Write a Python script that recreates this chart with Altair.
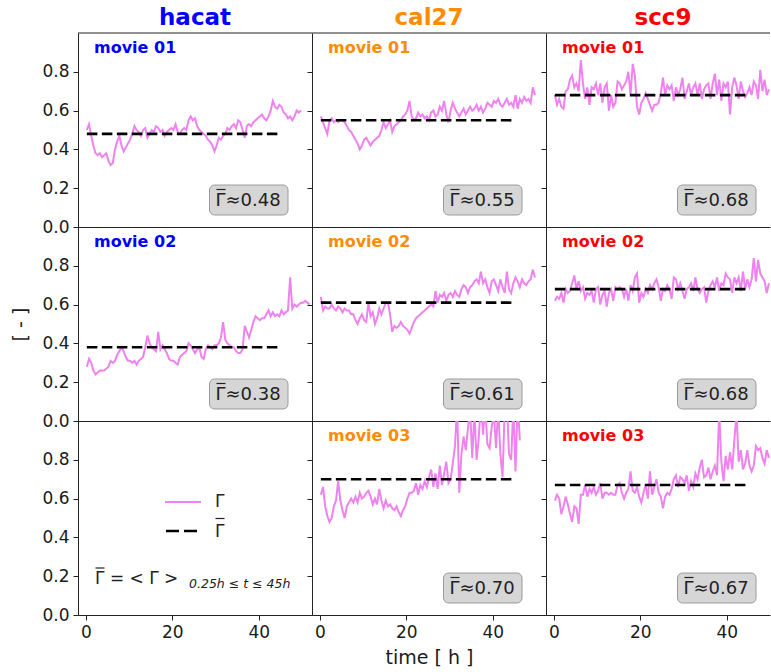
import altair as alt
import pandas as pd

# ---------------- data ----------------
CELL_LINES = ["hacat", "cal27", "scc9"]
CELL_COLORS = ["#0000ff", "#ff8c00", "#ff0000"]

# Gamma(t), sampled every 0.5 h starting at t = 0.25 h
SAMPLE_START = 0.25
SAMPLE_STEP = 0.5

HACAT_01 = [
    0.50, 0.53, 0.47, 0.42, 0.38, 0.37, 0.38, 0.36, 0.37, 0.38,
    0.34, 0.32, 0.33, 0.40, 0.44, 0.47, 0.42, 0.39, 0.41, 0.43,
    0.45, 0.48, 0.52, 0.50, 0.49, 0.47, 0.50, 0.51, 0.46, 0.48,
    0.50, 0.49, 0.52, 0.51, 0.49, 0.50, 0.47, 0.49, 0.50, 0.51,
    0.50, 0.53, 0.49, 0.48, 0.50, 0.51, 0.50, 0.55, 0.57, 0.55,
    0.56, 0.52, 0.50, 0.49, 0.48, 0.47, 0.45, 0.44, 0.42, 0.39,
    0.42, 0.46, 0.45, 0.47, 0.48, 0.51, 0.50, 0.52, 0.53, 0.51,
    0.55, 0.54, 0.50, 0.46, 0.52, 0.53, 0.52, 0.54, 0.55, 0.56,
    0.57, 0.58, 0.56, 0.55, 0.57, 0.60, 0.65, 0.62, 0.61, 0.63,
    0.62, 0.59, 0.58, 0.56, 0.57, 0.55, 0.57, 0.60, 0.59, 0.60,
]
HACAT_02 = [
    0.28, 0.32, 0.30, 0.26, 0.24, 0.25, 0.26, 0.26, 0.26, 0.27,
    0.28, 0.31, 0.30, 0.31, 0.34, 0.36, 0.38, 0.36, 0.33, 0.31,
    0.31, 0.30, 0.31, 0.29, 0.31, 0.32, 0.33, 0.38, 0.44, 0.40,
    0.38, 0.37, 0.36, 0.46, 0.37, 0.39, 0.37, 0.35, 0.32, 0.31,
    0.31, 0.30, 0.29, 0.33, 0.34, 0.35, 0.36, 0.40, 0.39, 0.37,
    0.35, 0.37, 0.38, 0.33, 0.32, 0.37, 0.39, 0.38, 0.37, 0.39,
    0.39, 0.40, 0.43, 0.51, 0.42, 0.40, 0.39, 0.38, 0.38, 0.36,
    0.35, 0.35, 0.37, 0.49, 0.46, 0.43, 0.47, 0.51, 0.54, 0.53,
    0.52, 0.53, 0.53, 0.55, 0.57, 0.54, 0.56, 0.54, 0.55, 0.54,
    0.57, 0.55, 0.56, 0.57, 0.74, 0.58, 0.60, 0.59, 0.60, 0.61,
    0.61, 0.62, 0.61, 0.60,
]
CAL27_01 = [
    0.57, 0.54, 0.51, 0.48, 0.55, 0.56, 0.54, 0.55, 0.54, 0.55,
    0.55, 0.54, 0.52, 0.50, 0.49, 0.47, 0.45, 0.43, 0.40, 0.42,
    0.45, 0.46, 0.44, 0.42, 0.44, 0.45, 0.46, 0.47, 0.50, 0.54,
    0.51, 0.53, 0.55, 0.49, 0.52, 0.53, 0.54, 0.55, 0.57, 0.58,
    0.60, 0.65, 0.57, 0.55, 0.56, 0.59, 0.57, 0.58, 0.56, 0.57,
    0.55, 0.59, 0.60, 0.57, 0.58, 0.62, 0.60, 0.65, 0.58, 0.54,
    0.60, 0.64, 0.61, 0.59, 0.57, 0.59, 0.61, 0.58, 0.60, 0.62,
    0.60, 0.61, 0.63, 0.60, 0.62, 0.59, 0.61, 0.64, 0.63, 0.62,
    0.65, 0.64, 0.66, 0.63, 0.62, 0.64, 0.66, 0.63, 0.64, 0.62,
    0.68, 0.61, 0.66, 0.64, 0.67, 0.65, 0.66, 0.64, 0.72, 0.68,
]
CAL27_02 = [
    0.64, 0.57, 0.59, 0.58, 0.58, 0.60, 0.58, 0.57, 0.59, 0.58,
    0.56, 0.58, 0.57, 0.57, 0.55, 0.55, 0.52, 0.50, 0.53, 0.55,
    0.52, 0.51, 0.61, 0.54, 0.56, 0.50, 0.53, 0.58, 0.55, 0.58,
    0.61, 0.61, 0.55, 0.46, 0.49, 0.48, 0.49, 0.51, 0.49, 0.48,
    0.47, 0.45, 0.48, 0.51, 0.53, 0.54, 0.55, 0.56, 0.57, 0.58,
    0.59, 0.60, 0.59, 0.67, 0.61, 0.65, 0.64, 0.66, 0.62, 0.65,
    0.66, 0.64, 0.67, 0.65, 0.64, 0.68, 0.70, 0.69, 0.66, 0.69,
    0.70, 0.72, 0.73, 0.71, 0.77, 0.71, 0.73, 0.69, 0.66, 0.72,
    0.73, 0.70, 0.67, 0.73, 0.69, 0.66, 0.77, 0.68, 0.66, 0.71,
    0.74, 0.72, 0.69, 0.73, 0.71, 0.70, 0.72, 0.73, 0.78, 0.74,
]
CAL27_03 = [
    0.62, 0.66, 0.56, 0.51, 0.48, 0.50, 0.56, 0.59, 0.69, 0.59,
    0.54, 0.50, 0.56, 0.58, 0.60, 0.58, 0.61, 0.58, 0.63, 0.60,
    0.61, 0.63, 0.64, 0.61, 0.57, 0.60, 0.57, 0.65, 0.59, 0.55,
    0.59, 0.56, 0.57, 0.55, 0.54, 0.56, 0.53, 0.51, 0.54, 0.56,
    0.60, 0.63, 0.63, 0.64, 0.68, 0.62, 0.67, 0.65, 0.69, 0.66,
    0.71, 0.75, 0.66, 0.73, 0.65, 0.77, 0.67, 0.73, 0.79, 0.68,
    0.70, 0.78, 0.87, 1.08, 0.63, 0.83, 0.92, 0.85, 0.96, 1.06,
    0.81, 1.05, 0.80, 0.91, 1.10, 0.93, 1.08, 0.88, 0.86, 0.97,
    1.04, 0.86, 1.07, 0.83, 0.71, 1.06, 1.10, 0.83, 0.80, 1.08,
    0.74, 1.10, 0.90,
]
SCC9_01 = [
    0.68, 0.63, 0.66, 0.62, 0.61, 0.70, 0.71, 0.76, 0.78, 0.72,
    0.74, 0.70, 0.86, 0.74, 0.66, 0.72, 0.63, 0.72, 0.71, 0.74,
    0.68, 0.74, 0.64, 0.72, 0.74, 0.60, 0.68, 0.62, 0.64, 0.75,
    0.74, 0.71, 0.73, 0.75, 0.80, 0.68, 0.84, 0.78, 0.62, 0.58,
    0.64, 0.66, 0.69, 0.66, 0.63, 0.60, 0.63, 0.63, 0.64, 0.69,
    0.77, 0.68, 0.73, 0.71, 0.73, 0.65, 0.72, 0.68, 0.71, 0.77,
    0.66, 0.70, 0.74, 0.68, 0.72, 0.74, 0.68, 0.74, 0.66, 0.71,
    0.73, 0.74, 0.66, 0.74, 0.79, 0.68, 0.76, 0.65, 0.74, 0.72,
    0.75, 0.58, 0.72, 0.77, 0.73, 0.66, 0.75, 0.70, 0.67, 0.69,
    0.72, 0.68, 0.75, 0.73, 0.66, 0.81, 0.70, 0.76, 0.68, 0.71,
]
SCC9_02 = [
    0.62, 0.64, 0.63, 0.66, 0.61, 0.68, 0.66, 0.67, 0.71, 0.75,
    0.68, 0.72, 0.67, 0.69, 0.63, 0.66, 0.65, 0.67, 0.61, 0.68,
    0.69, 0.60, 0.65, 0.67, 0.59, 0.66, 0.68, 0.62, 0.69, 0.68,
    0.69, 0.68, 0.64, 0.68, 0.62, 0.70, 0.67, 0.74, 0.76, 0.61,
    0.66, 0.64, 0.68, 0.66, 0.70, 0.68, 0.71, 0.73, 0.69, 0.62,
    0.68, 0.67, 0.70, 0.68, 0.63, 0.74, 0.73, 0.68, 0.71, 0.67,
    0.63, 0.68, 0.69, 0.71, 0.67, 0.74, 0.68, 0.66, 0.68, 0.69,
    0.61, 0.67, 0.70, 0.72, 0.69, 0.74, 0.67, 0.71, 0.70, 0.76,
    0.74, 0.73, 0.66, 0.74, 0.71, 0.74, 0.67, 0.77, 0.68, 0.73,
    0.69, 0.73, 0.84, 0.72, 0.83, 0.76, 0.74, 0.72, 0.66, 0.71,
]
SCC9_03 = [
    0.59, 0.62, 0.60, 0.52, 0.56, 0.61, 0.57, 0.52, 0.48, 0.56,
    0.55, 0.47, 0.62, 0.62, 0.67, 0.61, 0.65, 0.63, 0.66, 0.62,
    0.64, 0.68, 0.60, 0.63, 0.63, 0.62, 0.63, 0.62, 0.62, 0.67,
    0.68, 0.63, 0.60, 0.63, 0.65, 0.74, 0.64, 0.63, 0.66, 0.61,
    0.58, 0.63, 0.67, 0.60, 0.74, 0.62, 0.66, 0.70, 0.63, 0.61,
    0.55, 0.61, 0.63, 0.62, 0.65, 0.70, 0.72, 0.66, 0.71, 0.70,
    0.68, 0.72, 0.64, 0.69, 0.66, 0.73, 0.70, 0.76, 0.80, 0.71,
    0.72, 0.76, 0.70, 0.74, 0.77, 0.72, 1.05, 0.79, 0.69, 0.82,
    0.75, 0.84, 0.75, 0.90, 1.04, 0.79, 0.85, 0.75, 0.78, 0.85,
    0.77, 0.74, 0.77, 0.87, 0.85, 0.86, 0.81, 0.78, 0.85, 0.81,
]

MEAN_WINDOW = [0.25, 45.0]          # h, averaging window of Gamma-bar
Y_TICKS = [0.0, 0.2, 0.4, 0.6, 0.8]
X_TICKS = [0, 20, 40]

# grid: (movie label, series, mean) ; None = legend panel
GRID = [
    [("01", HACAT_01, 0.48), ("01", CAL27_01, 0.55), ("01", SCC9_01, 0.68)],
    [("02", HACAT_02, 0.38), ("02", CAL27_02, 0.61), ("02", SCC9_02, 0.68)],
    [None, ("03", CAL27_03, 0.70), ("03", SCC9_03, 0.67)],
]

# ---------------- layout / style ----------------
FONT = "DejaVu Sans"
WIDTHS = [234, 234, 224]
HEIGHT = 194
XDOMAINS = [[-1.8, 52.3], [-1.8, 52.3], [-1.8, 50.0]]
INK = "#222222"
ONE = pd.DataFrame({"k": [0]})


def encodings(row, col):
    bottom = row == 2
    xkw = dict(values=X_TICKS, labels=bottom, ticks=bottom, domain=True,
               grid=False, labelFlush=False, format="d")
    if bottom and col == 1:
        x = alt.X("t:Q", title="time [ h ]",
                  scale=alt.Scale(domain=XDOMAINS[col], nice=False, zero=False),
                  axis=alt.Axis(titleX=117, titleY=42, titleAlign="center",
                                titleBaseline="middle", **xkw))
    else:
        x = alt.X("t:Q", title=None,
                  scale=alt.Scale(domain=XDOMAINS[col], nice=False, zero=False),
                  axis=alt.Axis(**xkw))
    ykw = dict(values=Y_TICKS, labels=(col == 0), ticks=True, domain=True,
               grid=False, labelFlush=False, format=".1f")
    if col == 0 and row == 1:
        y = alt.Y("v:Q", title="[ - ]",
                  scale=alt.Scale(domain=[0, 1.0], nice=False, zero=False),
                  axis=alt.Axis(titleX=-58, titleY=HEIGHT / 2, titleAngle=-90,
                                titleAlign="center", titleBaseline="middle", **ykw))
    else:
        y = alt.Y("v:Q", title=None,
                  scale=alt.Scale(domain=[0, 1.0], nice=False, zero=False),
                  axis=alt.Axis(**ykw))
    return x, y


def txt(text, x, y, size, color=INK, weight="normal", align="left",
        baseline="alphabetic", style="normal"):
    return alt.Chart(ONE).mark_text(
        text=text, font=FONT, fontSize=size, fontWeight=weight, color=color,
        align=align, baseline=baseline, fontStyle=style,
    ).encode(x=alt.value(x), y=alt.value(y))


def bar(x1, x2, y, width=1.2):
    """overline drawn above a Gamma glyph"""
    return alt.Chart(ONE).mark_rule(color=INK, strokeWidth=width).encode(
        x=alt.value(x1), x2=alt.value(x2), y=alt.value(y))


def panel(row, col):
    w = WIDTHS[col]
    x, y = encodings(row, col)
    cell = GRID[row][col]
    layers = []
    if cell is None:
        axis_df = pd.DataFrame({"t": [0.0], "v": [0.0]})
        layers.append(alt.Chart(axis_df).mark_point(opacity=0).encode(x=x, y=y))
        layers.append(alt.Chart(ONE).mark_rule(color="violet", strokeWidth=2.2).encode(
            x=alt.value(87), x2=alt.value(123), y=alt.value(81)))
        layers.append(txt("\u0393", 137, 81, 17, baseline="middle"))
        layers.append(alt.Chart(ONE).mark_rule(color="black", strokeWidth=2.6,
                                               strokeDash=[13, 5]).encode(
            x=alt.value(88), x2=alt.value(121), y=alt.value(110)))
        layers.append(txt("\u0393", 137, 111, 17, baseline="middle"))
        layers.append(bar(137.5, 146.5, 97.5))
        layers.append(txt("\u0393 = < \u0393 >", 17, 163, 17))
        layers.append(bar(17.5, 26.5, 147))
        layers.append(txt("0.25h \u2264 t \u2264 45h", 111, 166.5, 12.5, style="italic"))
    else:
        movie, vals, mean = cell
        times = [SAMPLE_START + SAMPLE_STEP * i for i in range(len(vals))]
        df = pd.DataFrame({"t": times, "v": vals})
        mdf = pd.DataFrame({"t": MEAN_WINDOW, "v": [mean, mean]})
        layers.append(alt.Chart(df).mark_line(color="violet", strokeWidth=2,
                                              clip=True).encode(x=x, y=y))
        layers.append(alt.Chart(mdf).mark_line(color="black", strokeWidth=2.6,
                                               strokeDash=[10.5, 4.5]).encode(x=x, y=y))
        layers.append(alt.Chart(ONE).mark_rect(fill="#d6d6d6", stroke="#9b9b9b",
                                               strokeWidth=1, cornerRadius=5).encode(
            x=alt.value(131.5), x2=alt.value(210),
            y=alt.value(HEIGHT - 42), y2=alt.value(HEIGHT - 12)))
        layers.append(txt(f"\u0393\u2248{mean:.2f}", 137.5, HEIGHT - 26, 18,
                          baseline="middle"))
        layers.append(bar(138.5, 147.5, HEIGHT - 37.5))
        layers.append(txt(f"movie {movie}", 16, 20, 16, color=CELL_COLORS[col],
                          weight="bold"))
    if row == 0:
        layers.append(alt.Chart(ONE).mark_rule(color=INK, strokeWidth=1).encode(
            x=alt.value(0), x2=alt.value(w), y=alt.value(0)))
        layers.append(txt(CELL_LINES[col], 117, -8, 23, color=CELL_COLORS[col],
                          weight="bold", align="center"))
    # invisible (white) bound markers fixing the canvas to 771 x 672
    if row == 0 and col == 0:
        layers.append(alt.Chart(ONE).mark_rule(color="white", strokeWidth=1).encode(
            x=alt.value(-77.5), x2=alt.value(-72), y=alt.value(-32.5)))
    if row == 2 and col == 2:
        layers.append(alt.Chart(ONE).mark_rule(color="white", strokeWidth=1).encode(
            x=alt.value(210), x2=alt.value(w + 0.5), y=alt.value(HEIGHT + 56.5)))
    return alt.layer(*layers).properties(width=w, height=HEIGHT)


panels = [panel(r, c) for r in range(3) for c in range(3)]

chart = alt.concat(*panels, columns=3, spacing=0, bounds="flush").properties(
    padding=0, background="white"
).configure_view(stroke=None).configure_axis(
    labelFont=FONT, titleFont=FONT, labelFontSize=17, titleFontSize=19,
    titleFontWeight="normal", domainColor=INK, tickColor=INK,
    labelColor="#1a1a1a", titleColor="#1a1a1a", tickSize=5, labelPadding=4,
    domainWidth=1, tickWidth=1,
)

chart.save("out.html", embed_options={"renderer": "svg", "actions": False})
